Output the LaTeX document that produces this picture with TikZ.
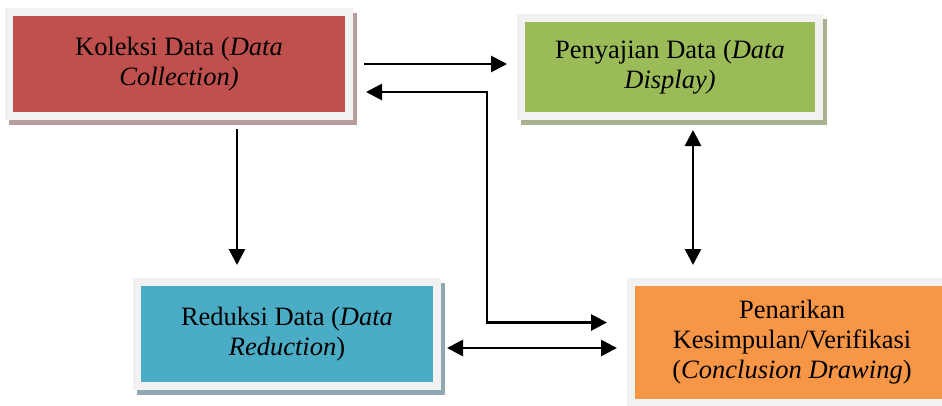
\documentclass[tikz,border=0pt]{standalone}
\usepackage{fontspec}
\setmainfont{Liberation Serif}
\usepackage{tikz}
\usetikzlibrary{arrows.meta, positioning}

\definecolor{redbox}{HTML}{C0504D}
\definecolor{greenbox}{HTML}{9BBB59}
\definecolor{bluebox}{HTML}{4BACC6}
\definecolor{orangebox}{HTML}{F79646}
\definecolor{redshade}{HTML}{B99C9C}
\definecolor{greenshade}{HTML}{A8B290}
\definecolor{blueshade}{HTML}{8FA9B4}
\definecolor{orangeshade}{HTML}{C4AA96}
\definecolor{framegray}{HTML}{F2F2F2}

\begin{document}
\begin{tikzpicture}[
    x=1pt, y=-1pt,
    box/.style={rectangle, outer sep=0pt, inner sep=0pt, align=center,
      font=\fontsize{26.5}{30}\selectfont,
      preaction={draw=#1, line width=16pt, transform canvas={shift={(4pt,-5pt)}}},
      preaction={draw=framegray, line width=16pt}},
    arrow/.style={-{Triangle[length=16pt, width=16pt]}, line width=2.8pt},
    twoway/.style={{Triangle[length=16pt, width=16pt]}-{Triangle[length=16pt, width=16pt]}, line width=2.8pt}
]
    \path[use as bounding box, clip] (0,0) rectangle (942,405);

    % the four stages
    \node[box=redshade, fill=redbox, minimum width=332pt, minimum height=96pt] (koleksi) at (179,64) {Koleksi Data (\textit{Data}\\\textit{Collection)}};
    \node[box=greenshade, fill=greenbox, minimum width=290pt, minimum height=90pt, right=180pt of koleksi, yshift=-3pt] (penyajian) {Penyajian Data (\textit{Data}\\\textit{Display)}};
    \node[box=blueshade, fill=bluebox, minimum width=292pt, minimum height=96pt, below=174pt of koleksi, xshift=108pt] (reduksi) {Reduksi Data (\textit{Data}\\\textit{Reduction})};
    \node[box=orangeshade, fill=orangebox, minimum width=314pt, minimum height=113pt, below=174pt of penyajian, xshift=122pt] (penarikan) {Penarikan\\Kesimpulan/Verifikasi\\(\textit{Conclusion Drawing})};

    % connections
    \coordinate (bend) at (487,200);
    \draw[arrow, shorten <=19pt, shorten >=18pt] (koleksi.east) -- (koleksi.east -| penyajian.west);
    \draw[twoway] ([xshift=21pt, yshift=-28pt]koleksi.east) -| (bend) |- ([xshift=-28pt, yshift=20pt]penarikan.west);
    \draw[arrow, shorten <=17pt, shorten >=21pt] ([xshift=58pt]koleksi.south) -- ([xshift=58pt]koleksi.south |- reduksi.north);
    \draw[twoway, shorten <=14pt, shorten >=18pt] ([yshift=-14pt]reduksi.east) -- ([yshift=-14pt]reduksi.east -| penarikan.west);
    \draw[twoway, shorten <=18pt, shorten >=21pt] ([xshift=23pt]penyajian.south) -- ([xshift=23pt]penyajian.south |- penarikan.north);
\end{tikzpicture}
\end{document}
